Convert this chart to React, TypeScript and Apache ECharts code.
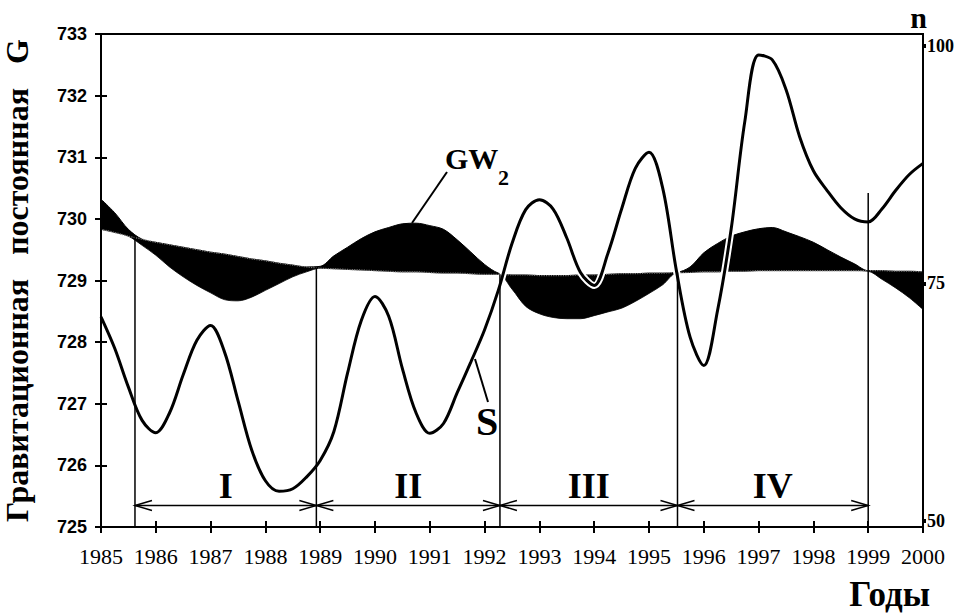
import React, { useEffect, useRef } from 'react';
import * as echarts from 'echarts';

// Time grid (years, quarterly)
const years = [
  1985, 1985.25, 1985.5, 1985.75, 1986, 1986.25, 1986.5, 1986.75,
  1987, 1987.25, 1987.5, 1987.75, 1988, 1988.25, 1988.5, 1988.75,
  1989, 1989.25, 1989.5, 1989.75, 1990, 1990.25, 1990.5, 1990.75,
  1991, 1991.25, 1991.5, 1991.75, 1992, 1992.25, 1992.5, 1992.75,
  1993, 1993.25, 1993.5, 1993.75, 1994, 1994.25, 1994.5, 1994.75,
  1995, 1995.25, 1995.5, 1995.75, 1996, 1996.25, 1996.5, 1996.75,
  1997, 1997.25, 1997.5, 1997.75, 1998, 1998.25, 1998.5, 1998.75,
  1999, 1999.25, 1999.5, 1999.75, 2000,
];

// S curve (gravitational constant measurements)
const sValues = [
  728.41, 727.9, 727.27, 726.73, 726.53, 726.85, 727.47, 728.03,
  728.27, 727.85, 727.05, 726.25, 725.75, 725.58, 725.62, 725.81,
  726.08, 726.55, 727.5, 728.35, 728.74, 728.42, 727.57, 726.85,
  726.52, 726.68, 727.18, 727.68, 728.2, 728.84, 729.6, 730.15,
  730.31, 730.16, 729.69, 729.13, 728.92, 729.44, 730.16, 730.82,
  731.08, 730.5, 729.16, 728.08, 727.62, 728.51, 729.84, 731.59,
  732.66, 732.58, 732.1, 731.33, 730.78, 730.46, 730.18, 730.0,
  729.95, 730.16, 730.46, 730.72, 730.9,
];

// GW2 wave
const gw2Values = [
  730.32, 730.1, 729.83, 729.57, 729.41, 729.22, 729.06, 728.92,
  728.8, 728.69, 728.67, 728.73, 728.84, 728.95, 729.06, 729.14,
  729.23, 729.4, 729.54, 729.68, 729.79, 729.86, 729.92, 729.93,
  729.89, 729.83, 729.66, 729.46, 729.26, 729.12, 728.86, 728.58,
  728.46, 728.4, 728.38, 728.38, 728.43, 728.49, 728.55, 728.66,
  728.79, 728.93, 729.12, 729.22, 729.45, 729.6, 729.72, 729.79,
  729.84, 729.86, 729.79, 729.71, 729.62, 729.5, 729.38, 729.27,
  729.15, 729.02, 728.88, 728.72, 728.53,
];

// GW2 trend (axis of the wave)
const trendValues = [
  729.83, 729.78, 729.72, 729.67, 729.62, 729.58, 729.54, 729.5,
  729.46, 729.43, 729.39, 729.35, 729.32, 729.28, 729.25, 729.22,
  729.2, 729.19, 729.18, 729.17, 729.16, 729.15, 729.14, 729.14,
  729.13, 729.12, 729.12, 729.11, 729.1, 729.1, 729.09, 729.09,
  729.08, 729.08, 729.08, 729.09, 729.09, 729.1, 729.11, 729.11,
  729.12, 729.12, 729.13, 729.13, 729.14, 729.14, 729.15, 729.15,
  729.16, 729.16, 729.16, 729.16, 729.16, 729.16, 729.16, 729.16,
  729.16, 729.16, 729.15, 729.15, 729.14,
];

const nTicks = [50, 75, 100];
const periodBounds = [1985.62, 1988.93, 1992.28, 1995.52, 1999.0];
const boundTops = [729.7, 729.21, 729.1, 729.13, 730.42];
const periodLabels = ['I', 'II', 'III', 'IV'];
const arrowLevel = 725.35;
const labelLevel = 725.66;

const SERIF = '"Liberation Serif", "Times New Roman", serif';
const SANS = '"Liberation Sans", Arial, sans-serif';

export default function App() {
  const ref = useRef<HTMLDivElement>(null);

  useEffect(() => {
    const chart = echarts.init(ref.current!, null, { renderer: 'svg' });

    const sData = years.map((y, i) => [y, sValues[i]]);
    const trendData = years.map((y, i) => [y, trendValues[i]]);
    const bandTop = years.map((y, i) => [y, Math.max(gw2Values[i], trendValues[i])]);
    const bandBottom = years.map((y, i) => [y, Math.min(gw2Values[i], trendValues[i])]);
    const boundData = periodBounds.map((x, i) => [x, boundTops[i]]);
    const arrowData = periodLabels.map((_, i) => [periodBounds[i], periodBounds[i + 1], arrowLevel]);

    const SM = 0.33;

    const option: any = {
      animation: false,
      backgroundColor: '#fff',
      grid: {
        left: 101, right: 36, top: 34, bottom: 87,
        outerBoundsMode: 'none', containLabel: false,
        show: true, borderColor: '#000', borderWidth: 2, backgroundColor: 'transparent',
      },
      xAxis: [
        {
          type: 'value', min: 1985, max: 2000, interval: 1, z: 10,
          axisLine: { lineStyle: { color: '#000', width: 2 } },
          axisTick: { length: 6, lineStyle: { color: '#000', width: 2 } },
          axisLabel: { color: '#000', fontFamily: SERIF, fontSize: 22, margin: 18, formatter: (v: number) => String(v) },
          splitLine: { show: false },
        },
        {
          type: 'value', min: 1985, max: 2000, interval: 1, position: 'bottom', z: 10,
          axisLine: { show: false },
          axisTick: { inside: true, length: 6, lineStyle: { color: '#000', width: 2 } },
          axisLabel: { show: false },
          splitLine: { show: false },
        },
      ],
      yAxis: [
        {
          type: 'value', min: 725, max: 733, interval: 1, z: 10,
          name: 'Гравитационная\u00A0\u00A0\u00A0постоянная\u00A0\u00A0\u00A0G',
          nameLocation: 'middle', nameRotate: 90, nameGap: 68,
          nameTextStyle: { color: '#000', fontFamily: SERIF, fontWeight: 'bold', fontSize: 32 },
          axisLine: { show: true, lineStyle: { color: '#000', width: 2 } },
          axisTick: { show: true, length: 6, lineStyle: { color: '#000', width: 2 } },
          axisLabel: { color: '#000', fontFamily: SANS, fontWeight: 'bold', fontSize: 18, margin: 14 },
          splitLine: { show: false },
        },
        {
          type: 'value', min: 49.37, max: 101.26, position: 'right', z: 10,
          name: 'n', nameLocation: 'end', nameGap: 2,
          nameTextStyle: { color: '#000', fontFamily: SERIF, fontWeight: 'bold', fontSize: 30, align: 'right', padding: [0, -4, 0, 0] },
          axisLine: { show: true, lineStyle: { color: '#000', width: 2 } },
          axisTick: { show: true, length: 3, customValues: nTicks, lineStyle: { color: '#000', width: 4 } },
          axisLabel: { color: '#000', fontFamily: SERIF, fontWeight: 'bold', fontSize: 18, margin: 4, customValues: nTicks },
          splitLine: { show: false },
        },
        {
          type: 'value', min: 725, max: 733, interval: 1, position: 'left', z: 10,
          axisLine: { show: false },
          axisTick: { show: true, inside: true, length: 6, lineStyle: { color: '#000', width: 2 } },
          axisLabel: { show: false },
          splitLine: { show: false },
        },
      ],
      series: [
        {
          name: 'GW2', type: 'line', data: bandTop, smooth: SM, symbol: 'none', z: 2,
          lineStyle: { color: '#000', width: 1 },
          areaStyle: { color: '#000', opacity: 1, origin: 'start' },
        },
        {
          name: 'GW2-lower', type: 'line', data: bandBottom, smooth: SM, symbol: 'none', z: 2,
          lineStyle: { color: '#000', width: 0.8 },
          areaStyle: { color: '#fff', opacity: 1, origin: 'start' },
        },
        {
          name: 'trend', type: 'line', data: trendData, smooth: SM, symbol: 'none', z: 3,
          lineStyle: { color: '#777', width: 1.2, type: 'dotted' },
        },
        {
          name: 'S-halo', type: 'line', data: sData, smooth: SM, symbol: 'none', z: 3,
          lineStyle: { color: '#fff', width: 7 },
        },
        {
          name: 'bounds', type: 'custom', data: boundData, z: 4,
          encode: { x: 0, y: 1 },
          renderItem: (params: any, api: any) => {
            const p1 = api.coord([api.value(0), api.value(1)]);
            const p2 = api.coord([api.value(0), 725]);
            return {
              type: 'line',
              shape: { x1: p1[0], y1: p1[1], x2: p2[0], y2: p2[1] },
              style: { stroke: '#000', lineWidth: 1.5 },
            };
          },
        },
        {
          name: 'S', type: 'line', data: sData, smooth: SM, symbol: 'none', z: 5,
          lineStyle: { color: '#000', width: 3 },
        },
        {
          name: 'periods', type: 'custom', data: arrowData, z: 4,
          encode: { x: [0, 1], y: 2 },
          renderItem: (params: any, api: any) => {
            const x1 = api.value(0), x2 = api.value(1), y = api.value(2);
            const a = api.coord([x1, y]);
            const b = api.coord([x2, y]);
            const t = api.coord([(x1 + x2) / 2, labelLevel]);
            const L = 17, H = 5;
            const st = { stroke: '#000', lineWidth: 1.5, fill: 'none' };
            return {
              type: 'group',
              children: [
                { type: 'line', shape: { x1: a[0], y1: a[1], x2: b[0], y2: b[1] }, style: st },
                { type: 'polyline', shape: { points: [[a[0] + L, a[1] - H], [a[0], a[1]], [a[0] + L, a[1] + H]] }, style: st },
                { type: 'polyline', shape: { points: [[b[0] - L, b[1] - H], [b[0], b[1]], [b[0] - L, b[1] + H]] }, style: st },
                {
                  type: 'text', x: t[0], y: t[1],
                  style: {
                    text: periodLabels[params.dataIndex], fill: '#000',
                    font: `bold 36px ${SERIF}`, align: 'center', verticalAlign: 'middle',
                  },
                },
              ],
            };
          },
        },
      ],
      graphic: [
        { type: 'line', z: 20, shape: { x1: 447, y1: 172, x2: 412, y2: 223 }, style: { stroke: '#000', lineWidth: 2 } },
        { type: 'text', z: 20, x: 445, y: 158, style: { text: 'GW', fill: '#000', font: `bold 30px ${SERIF}`, align: 'left', verticalAlign: 'middle' } },
        { type: 'text', z: 20, x: 498, y: 177, style: { text: '2', fill: '#000', font: `bold 22px ${SERIF}`, align: 'left', verticalAlign: 'middle' } },
        { type: 'line', z: 20, shape: { x1: 488, y1: 402, x2: 475, y2: 359 }, style: { stroke: '#000', lineWidth: 2 } },
        { type: 'text', z: 20, x: 487, y: 421, style: { text: 'S', fill: '#000', font: `bold 40px ${SERIF}`, align: 'center', verticalAlign: 'middle' } },
        { type: 'text', z: 20, x: 930, y: 594, style: { text: 'Годы', fill: '#000', font: `bold 35px ${SERIF}`, align: 'right', verticalAlign: 'middle' } },
      ],
    };

    chart.setOption(option);
    return () => chart.dispose();
  }, []);

  return (
    <div
      ref={ref}
      style={{ position: 'absolute', left: 0, top: 0, width: 959, height: 614, background: '#fff' }}
    />
  );
}
